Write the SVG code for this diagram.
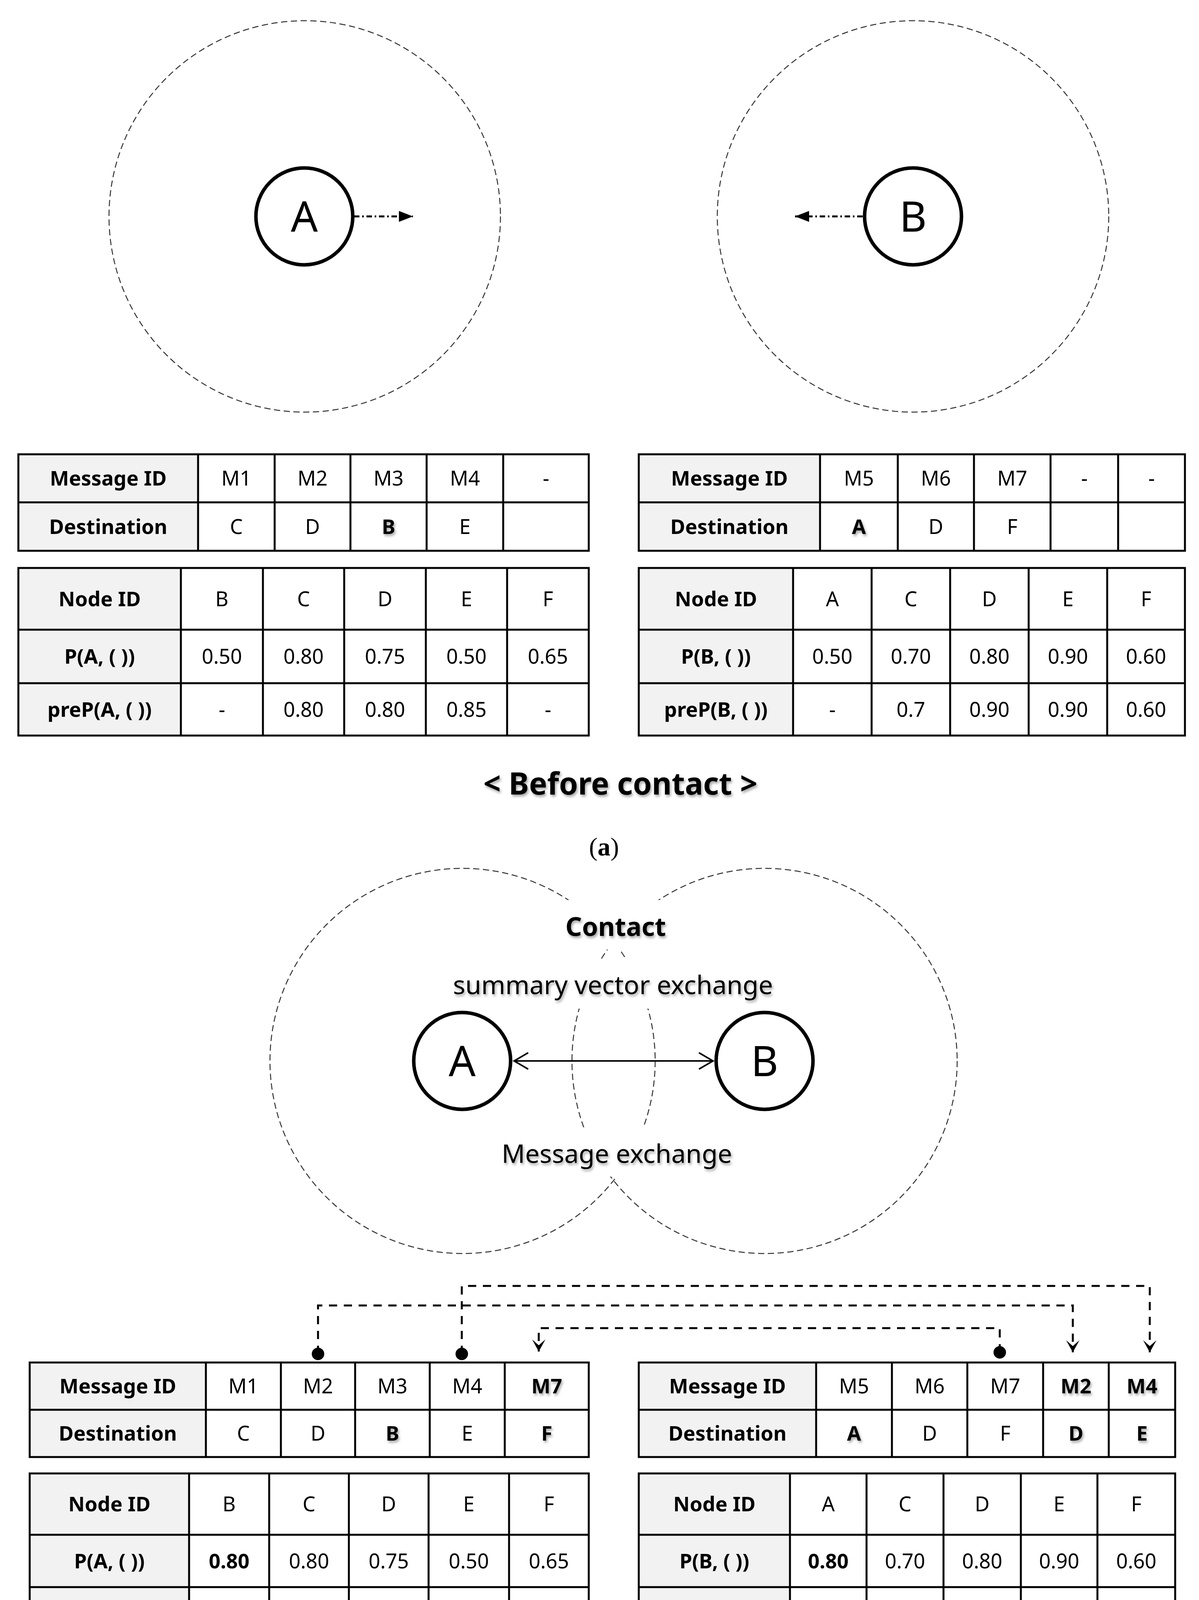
<svg xmlns="http://www.w3.org/2000/svg" width="3069" height="4532" viewBox="0 0 3069 4532">
<defs>
<style>
.cir{fill:none;stroke:#333;stroke-width:2.5;stroke-dasharray:16 9}
.node{fill:#fff;stroke:#000;stroke-width:9}
.nl{font-family:'Noto Sans','Liberation Sans',sans-serif;font-size:108px;text-anchor:middle;fill:#000}
.t{font-family:'Noto Sans','Liberation Sans',sans-serif;font-size:52px;text-anchor:middle;fill:#000}
.b{font-weight:bold}
.hdr{fill:#f2f2f2}
.grid{fill:none;stroke:#000;stroke-width:5}
.lbl{font-family:'Noto Sans','Liberation Sans',sans-serif;font-size:66px;text-anchor:middle;fill:#000}
.cap{font-family:'Noto Sans','Liberation Sans',sans-serif;font-size:78px;font-weight:bold;text-anchor:middle;fill:#000}
.sub{font-family:'Liberation Serif','Times New Roman',serif;font-size:66px;text-anchor:middle;fill:#000}
.con{fill:none;stroke:#000;stroke-width:5;stroke-dasharray:21 17}
.dd{fill:none;stroke:#000;stroke-width:5;stroke-dasharray:14 7 4 7}
.dbl{fill:none;stroke:#000;stroke-width:4}
.mask{fill:#fff}
.sh{filter:url(#sh)}
</style>
<filter id="sh" x="-10%" y="-30%" width="130%" height="170%">
<feDropShadow dx="3" dy="5" stdDeviation="3" flood-color="#000" flood-opacity="0.35"/>
</filter>
<marker id="tri" markerUnits="userSpaceOnUse" markerWidth="40" markerHeight="32" viewBox="-38 -16 40 32" refX="0" refY="0" orient="auto">
<path d="M0,0 L-36,-14 L-36,14 Z" fill="#000"/>
</marker>
<marker id="chev" markerUnits="userSpaceOnUse" markerWidth="44" markerHeight="50" viewBox="-40 -25 44 50" refX="0" refY="0" orient="auto-start-reverse">
<path d="M-36,-21 L0,0 L-36,21" fill="none" stroke="#000" stroke-width="4"/>
</marker>
<marker id="barb" markerUnits="userSpaceOnUse" markerWidth="36" markerHeight="40" viewBox="-33 -20 36 40" refX="0" refY="0" orient="auto">
<path d="M0,0 L-31,-17 L-16,0 L-31,17 Z" fill="#000"/>
</marker>
</defs>
<rect x="0" y="0" width="3069" height="4532" fill="#fff"/>

<!-- (a) ranges -->
<g id="rangeA1"><circle class="cir" cx="780" cy="554" r="501"/></g>
<g id="rangeB1"><circle class="cir" cx="2337" cy="554" r="501"/></g>

<g id="connectors-a">
<path class="dd" d="M906 554 H1057" marker-end="url(#tri)"/>
<path class="dd" d="M2208 554 H2035" marker-end="url(#tri)"/>
</g>

<g id="nodeA1"><circle class="node" cx="779" cy="554" r="124"/><text class="nl" x="779" y="593">A</text></g>
<g id="nodeB1"><circle class="node" cx="2337" cy="554" r="124"/><text class="nl" x="2337" y="593">B</text></g>

<!-- Before: message table A -->
<g id="msgA1">
<rect class="hdr" x="47" y="1163" width="460" height="247"/>
<path class="grid" d="M47 1163H1507V1410H47Z M507 1163V1410 M703 1163V1410 M897 1163V1410 M1092 1163V1410 M1288 1163V1410 M47 1286H1507"/>
<text class="t b" x="277" y="1243">Message ID</text>
<text class="t" x="605" y="1243">M1</text>
<text class="t" x="800" y="1243">M2</text>
<text class="t" x="994.5" y="1243">M3</text>
<text class="t" x="1190" y="1243">M4</text>
<text class="t" x="1397.5" y="1243">-</text>
<text class="t b" x="277" y="1367">Destination</text>
<text class="t" x="605" y="1367">C</text>
<text class="t" x="800" y="1367">D</text>
<text class="t b sh" x="994.5" y="1367">B</text>
<text class="t" x="1190" y="1367">E</text>
</g>

<!-- Before: message table B -->
<g id="msgB1">
<rect class="hdr" x="1635" y="1163" width="464" height="247"/>
<path class="grid" d="M1635 1163H3033V1410H1635Z M2099 1163V1410 M2298 1163V1410 M2493 1163V1410 M2689 1163V1410 M2862 1163V1410 M1635 1286H3033"/>
<text class="t b" x="1867" y="1243">Message ID</text>
<text class="t" x="2198.5" y="1243">M5</text>
<text class="t" x="2395.5" y="1243">M6</text>
<text class="t" x="2591" y="1243">M7</text>
<text class="t" x="2775.5" y="1243">-</text>
<text class="t" x="2947.5" y="1243">-</text>
<text class="t b" x="1867" y="1367">Destination</text>
<text class="t b sh" x="2198.5" y="1367">A</text>
<text class="t" x="2395.5" y="1367">D</text>
<text class="t" x="2591" y="1367">F</text>
</g>

<!-- Before: node table A -->
<g id="nodeTabA1">
<rect class="hdr" x="47" y="1454" width="416" height="429"/>
<path class="grid" d="M47 1454H1507V1883H47Z M463 1454V1883 M673 1454V1883 M881 1454V1883 M1090 1454V1883 M1298 1454V1883 M47 1612H1507 M47 1749H1507"/>
<text class="t b" x="255" y="1552">Node ID</text>
<text class="t" x="568" y="1552">B</text>
<text class="t" x="777" y="1552">C</text>
<text class="t" x="985.5" y="1552">D</text>
<text class="t" x="1194" y="1552">E</text>
<text class="t" x="1402.5" y="1552">F</text>
<text class="t b" x="255" y="1699">P(A, ( ))</text>
<text class="t" x="568" y="1699">0.50</text>
<text class="t" x="777" y="1699">0.80</text>
<text class="t" x="985.5" y="1699">0.75</text>
<text class="t" x="1194" y="1699">0.50</text>
<text class="t" x="1402.5" y="1699">0.65</text>
<text class="t b" x="255" y="1835">preP(A, ( ))</text>
<text class="t" x="568" y="1835">-</text>
<text class="t" x="777" y="1835">0.80</text>
<text class="t" x="985.5" y="1835">0.80</text>
<text class="t" x="1194" y="1835">0.85</text>
<text class="t" x="1402.5" y="1835">-</text>
</g>

<!-- Before: node table B -->
<g id="nodeTabB1">
<rect class="hdr" x="1635" y="1454" width="395" height="429"/>
<path class="grid" d="M1635 1454H3033V1883H1635Z M2030 1454V1883 M2231 1454V1883 M2432 1454V1883 M2633 1454V1883 M2834 1454V1883 M1635 1612H3033 M1635 1749H3033"/>
<text class="t b" x="1832.5" y="1552">Node ID</text>
<text class="t" x="2130.5" y="1552">A</text>
<text class="t" x="2331.5" y="1552">C</text>
<text class="t" x="2532.5" y="1552">D</text>
<text class="t" x="2733.5" y="1552">E</text>
<text class="t" x="2933.5" y="1552">F</text>
<text class="t b" x="1832.5" y="1699">P(B, ( ))</text>
<text class="t" x="2130.5" y="1699">0.50</text>
<text class="t" x="2331.5" y="1699">0.70</text>
<text class="t" x="2532.5" y="1699">0.80</text>
<text class="t" x="2733.5" y="1699">0.90</text>
<text class="t" x="2933.5" y="1699">0.60</text>
<text class="t b" x="1832.5" y="1835">preP(B, ( ))</text>
<text class="t" x="2130.5" y="1835">-</text>
<text class="t" x="2331.5" y="1835">0.7</text>
<text class="t" x="2532.5" y="1835">0.90</text>
<text class="t" x="2733.5" y="1835">0.90</text>
<text class="t" x="2933.5" y="1835">0.60</text>
</g>

<text class="cap sh" x="1588" y="2034">&lt; Before contact &gt;</text>
<text class="sub" x="1546" y="2190">(<tspan font-weight="bold">a</tspan>)</text>

<!-- (b) ranges -->
<g id="rangeA2"><circle class="cir" cx="1184" cy="2716" r="493"/></g>
<g id="rangeB2"><circle class="cir" cx="1957" cy="2716" r="493"/></g>
<rect class="mask" x="1430" y="2304" width="282" height="127"/>
<rect class="mask" x="1150" y="2455" width="840" height="127"/>
<rect class="mask" x="1280" y="2886" width="600" height="126"/>
<text class="lbl b sh" x="1576" y="2396">Contact</text>
<text class="lbl sh" x="1569" y="2545">summary vector exchange</text>
<text class="lbl sh" x="1579" y="2977">Message exchange</text>

<g id="connectors-b">
<path class="dbl" d="M1316 2716 H1825" marker-start="url(#chev)" marker-end="url(#chev)"/>
<path class="con" d="M814 3466 V3342 H2746 V3462" marker-end="url(#barb)"/>
<path class="con" d="M1182 3466 V3292 H2943 V3462" marker-end="url(#barb)"/>
<path class="con" d="M2559 3462 V3400 H1379 V3460" marker-end="url(#barb)"/>
<circle cx="814" cy="3466" r="16" fill="#000"/>
<circle cx="1182" cy="3466" r="16" fill="#000"/>
<circle cx="2559" cy="3462" r="16" fill="#000"/>
</g>

<g id="nodeA2"><circle class="node" cx="1183" cy="2716" r="124"/><text class="nl" x="1183" y="2755">A</text></g>
<g id="nodeB2"><circle class="node" cx="1957" cy="2716" r="124"/><text class="nl" x="1957" y="2755">B</text></g>

<!-- After: message table A -->
<g id="msgA2">
<rect class="hdr" x="76" y="3488" width="451" height="242"/>
<path class="grid" d="M76 3488H1507V3730H76Z M527 3488V3730 M719 3488V3730 M909 3488V3730 M1100 3488V3730 M1292 3488V3730 M76 3609H1507"/>
<text class="t b" x="301.5" y="3567">Message ID</text>
<text class="t" x="623" y="3567">M1</text>
<text class="t" x="814" y="3567">M2</text>
<text class="t" x="1004.5" y="3567">M3</text>
<text class="t" x="1196" y="3567">M4</text>
<text class="t b sh" x="1399.5" y="3567">M7</text>
<text class="t b" x="301.5" y="3688">Destination</text>
<text class="t" x="623" y="3688">C</text>
<text class="t" x="814" y="3688">D</text>
<text class="t b sh" x="1004.5" y="3688">B</text>
<text class="t" x="1196" y="3688">E</text>
<text class="t b sh" x="1399.5" y="3688">F</text>
</g>

<!-- After: message table B -->
<g id="msgB2">
<rect class="hdr" x="1635" y="3488" width="454" height="242"/>
<path class="grid" d="M1635 3488H3008V3730H1635Z M2089 3488V3730 M2283 3488V3730 M2476 3488V3730 M2670 3488V3730 M2838 3488V3730 M1635 3609H3008"/>
<text class="t b" x="1862" y="3567">Message ID</text>
<text class="t" x="2186" y="3567">M5</text>
<text class="t" x="2379.5" y="3567">M6</text>
<text class="t" x="2573" y="3567">M7</text>
<text class="t b sh" x="2754" y="3567">M2</text>
<text class="t b sh" x="2923" y="3567">M4</text>
<text class="t b" x="1862" y="3688">Destination</text>
<text class="t b sh" x="2186" y="3688">A</text>
<text class="t" x="2379.5" y="3688">D</text>
<text class="t" x="2573" y="3688">F</text>
<text class="t b sh" x="2754" y="3688">D</text>
<text class="t b sh" x="2923" y="3688">E</text>
</g>

<!-- After: node table A -->
<g id="nodeTabA2">
<rect class="hdr" x="76" y="3772" width="408" height="423"/>
<path class="grid" d="M76 3772H1507V4195H76Z M484 3772V4195 M689 3772V4195 M893 3772V4195 M1097 3772V4195 M1303 3772V4195 M76 3929H1507 M76 4063H1507"/>
<text class="t b" x="280" y="3869">Node ID</text>
<text class="t" x="586.5" y="3869">B</text>
<text class="t" x="791" y="3869">C</text>
<text class="t" x="995" y="3869">D</text>
<text class="t" x="1200" y="3869">E</text>
<text class="t" x="1405" y="3869">F</text>
<text class="t b" x="280" y="4015">P(A, ( ))</text>
<text class="t b" x="586.5" y="4015">0.80</text>
<text class="t" x="791" y="4015">0.80</text>
<text class="t" x="995" y="4015">0.75</text>
<text class="t" x="1200" y="4015">0.50</text>
<text class="t" x="1405" y="4015">0.65</text>
<text class="t b" x="280" y="4148">preP(A, ( ))</text>
<text class="t b" x="586.5" y="4148">0.80</text>
<text class="t" x="791" y="4148">0.80</text>
<text class="t" x="995" y="4148">0.80</text>
<text class="t" x="1200" y="4148">0.85</text>
<text class="t b sh" x="1405" y="4148">0.65</text>
</g>

<!-- After: node table B -->
<g id="nodeTabB2">
<rect class="hdr" x="1635" y="3772" width="387" height="423"/>
<path class="grid" d="M1635 3772H3008V4195H1635Z M2022 3772V4195 M2218 3772V4195 M2415 3772V4195 M2613 3772V4195 M2809 3772V4195 M1635 3929H3008 M1635 4063H3008"/>
<text class="t b" x="1828.5" y="3869">Node ID</text>
<text class="t" x="2120" y="3869">A</text>
<text class="t" x="2316.5" y="3869">C</text>
<text class="t" x="2514" y="3869">D</text>
<text class="t" x="2711" y="3869">E</text>
<text class="t" x="2908.5" y="3869">F</text>
<text class="t b" x="1828.5" y="4015">P(B, ( ))</text>
<text class="t b" x="2120" y="4015">0.80</text>
<text class="t" x="2316.5" y="4015">0.70</text>
<text class="t" x="2514" y="4015">0.80</text>
<text class="t" x="2711" y="4015">0.90</text>
<text class="t" x="2908.5" y="4015">0.60</text>
<text class="t b" x="1828.5" y="4148">preP(B, ( ))</text>
<text class="t b" x="2120" y="4148">0.80</text>
<text class="t" x="2316.5" y="4148">0.7</text>
<text class="t" x="2514" y="4148">0.90</text>
<text class="t" x="2711" y="4148">0.90</text>
<text class="t" x="2908.5" y="4148">0.60</text>
</g>

<text class="cap sh" x="1575" y="4318">&lt; After contact &gt;</text>
<text class="sub" x="1546" y="4476">(<tspan font-weight="bold">b</tspan>)</text>
</svg>
